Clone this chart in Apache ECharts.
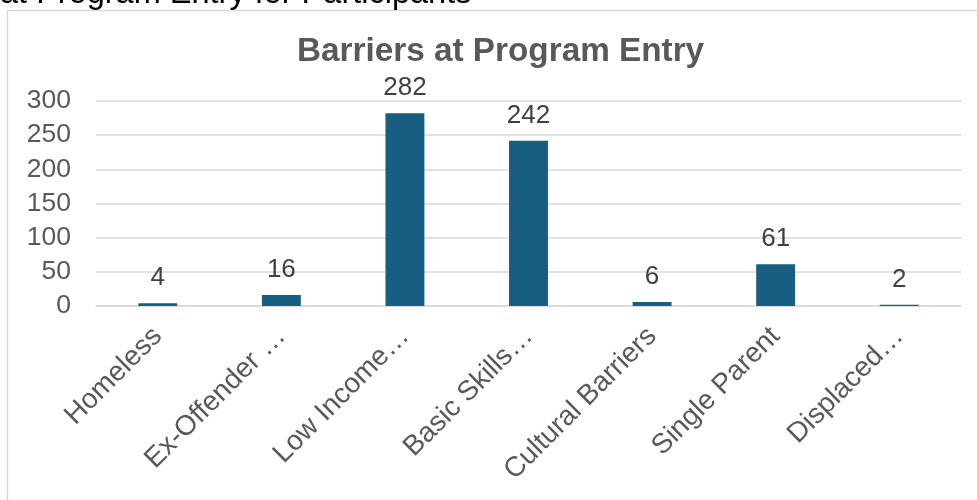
<!DOCTYPE html>
<html>
<head>
<meta charset="utf-8">
<script src="https://cdn.jsdelivr.net/npm/echarts@6/dist/echarts.min.js"></script>
<style>
html,body{margin:0;padding:0;background:#fff;}
#chart{width:977px;height:500px;}
</style>
</head>
<body>
<div id="chart"></div>
<script>
const categories = ['Homeless', 'Ex-Offender …', 'Low Income…', 'Basic Skills…', 'Cultural Barriers', 'Single Parent', 'Displaced…'];
const values = [4, 16, 282, 242, 6, 61, 2];
const yTicks = { min: 0, max: 300, interval: 50 };
const chartTitle = 'Barriers at Program Entry';
const clippedHeading = 'at Program Entry for Participants';

const FONT = '"Liberation Sans", Arial, sans-serif';
const chart = echarts.init(document.getElementById('chart'), null, { renderer: 'canvas' });
chart.setOption({
  animation: false,
  backgroundColor: '#ffffff',
  title: {
    text: chartTitle,
    left: 292,
    top: 30,
    textStyle: { fontFamily: FONT, fontSize: 33.3, fontWeight: 'bold', color: '#595959' }
  },
  graphic: [
    {
      type: 'rect', silent: true, z: -1,
      shape: { x: 7.5, y: 10.5, width: 1100, height: 700 },
      style: { fill: 'none', stroke: '#d9d9d9', lineWidth: 1.5 }
    },
    {
      type: 'text', silent: true,
      x: 0, y: 11,
      style: { text: clippedHeading, font: '32.5px ' + FONT, fill: '#000000', verticalAlign: 'bottom', align: 'left' }
    }
  ],
  grid: { left: 96, right: 16, top: 101, bottom: 194, containLabel: false },
  xAxis: {
    type: 'category',
    data: categories,
    axisLine: { show: true, lineStyle: { color: '#d9d9d9', width: 1.5 } },
    axisTick: { show: false },
    axisLabel: { rotate: 45, interval: 0, margin: 26, fontFamily: FONT, fontSize: 28, color: '#595959' }
  },
  yAxis: {
    type: 'value',
    min: yTicks.min, max: yTicks.max, interval: yTicks.interval,
    axisLine: { show: false },
    axisTick: { show: false },
    splitLine: { lineStyle: { color: '#d9d9d9', width: 1.5 } },
    axisLabel: { margin: 25, fontFamily: FONT, fontSize: 26.5, color: '#595959' }
  },
  series: [{
    type: 'bar',
    data: values,
    barWidth: '31.5%',
    itemStyle: { color: '#175e80' },
    label: { show: true, position: 'top', distance: 12, fontFamily: FONT, fontSize: 26, color: '#404040' }
  }]
});
</script>
</body>
</html>
